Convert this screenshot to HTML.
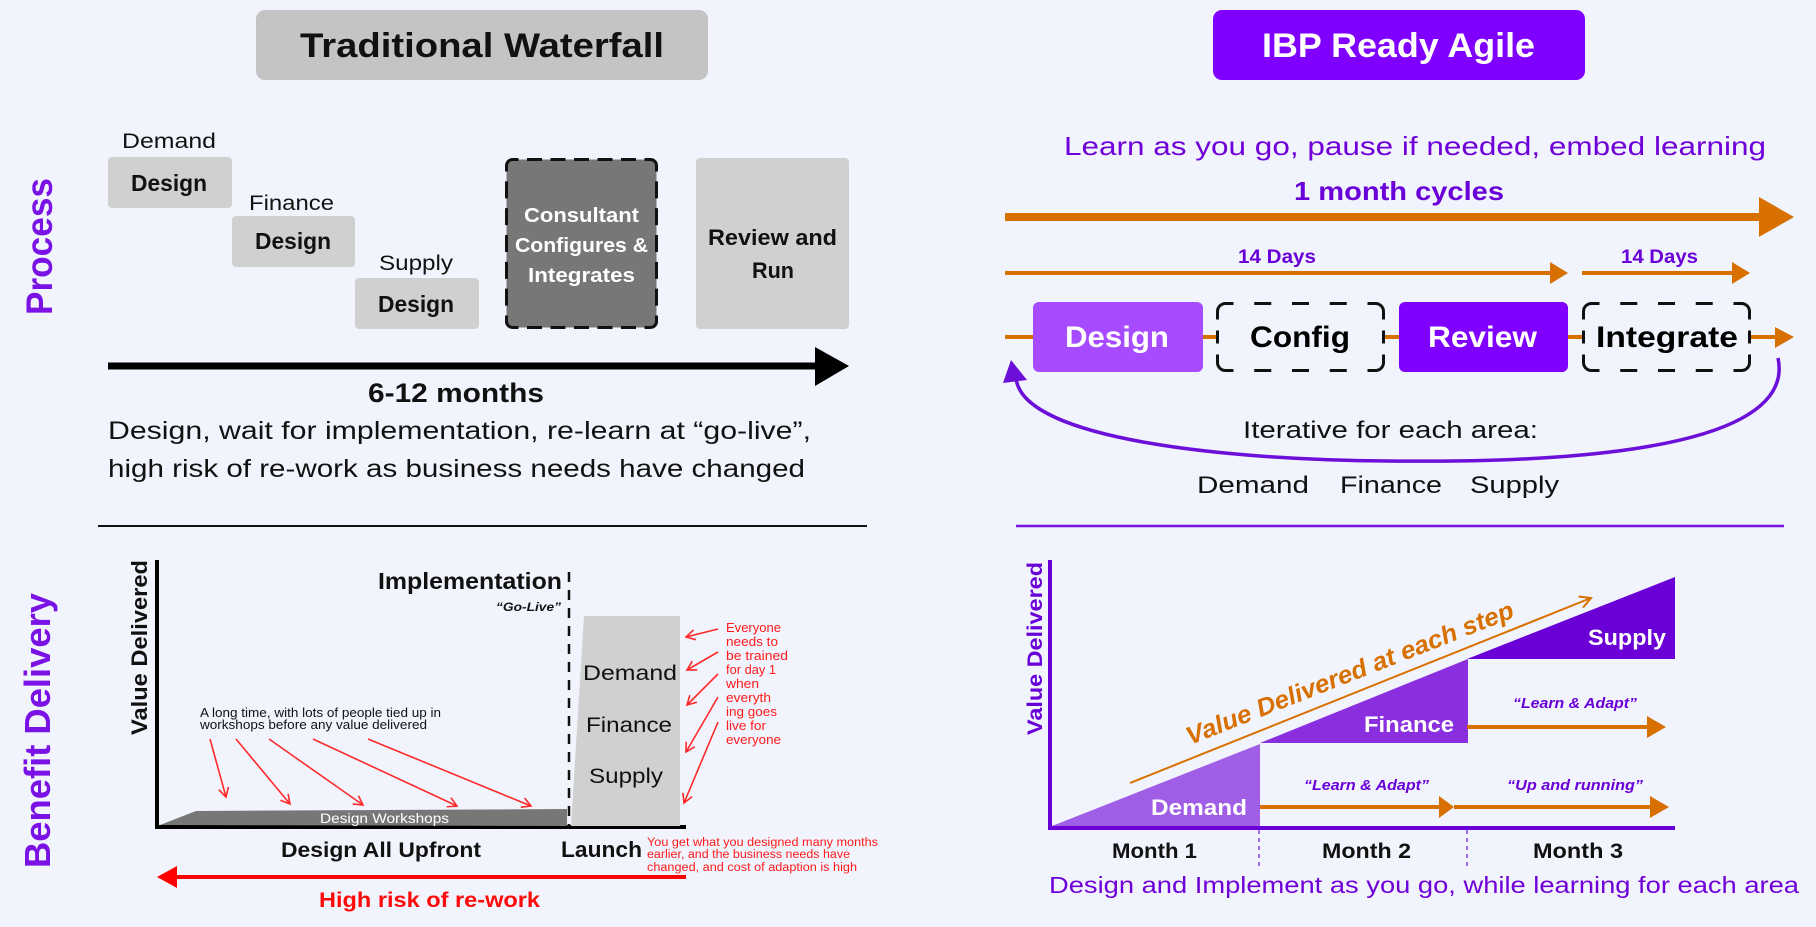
<!DOCTYPE html>
<html><head><meta charset="utf-8"><style>
html,body{margin:0;padding:0;background:#f1f4fd;}
svg{display:block;}
text{font-family:"Liberation Sans",Arial,sans-serif;}
</style></head><body>
<svg width="1816" height="927" viewBox="0 0 1816 927" xmlns="http://www.w3.org/2000/svg">
<defs>
<marker id="ra" markerWidth="12" markerHeight="12" refX="10" refY="6" orient="auto" markerUnits="userSpaceOnUse"><path d="M1,1 L10,6 L1,11" fill="none" stroke="#ff2a2a" stroke-width="1.6"/></marker>
<marker id="oa" markerWidth="14" markerHeight="14" refX="12" refY="7" orient="auto" markerUnits="userSpaceOnUse"><path d="M1,1 L12,7 L1,13" fill="none" stroke="#d87000" stroke-width="2"/></marker>
</defs>
<rect width="1816" height="927" fill="#f1f4fd"/>

<!-- Titles -->
<rect x="256" y="10" width="452" height="70" rx="9" fill="#c4c4c4"/>
<text x="300" y="57" font-size="34" font-weight="bold" fill="#111" textLength="364" lengthAdjust="spacingAndGlyphs">Traditional Waterfall</text>
<rect x="1213" y="10" width="372" height="70" rx="9" fill="#7f00ff"/>
<text x="1262" y="57" font-size="34" font-weight="bold" fill="#fff" textLength="273" lengthAdjust="spacingAndGlyphs">IBP Ready Agile</text>

<!-- Side labels -->
<text transform="translate(52,315) rotate(-90)" font-size="37" font-weight="bold" fill="#7a12e6" textLength="137" lengthAdjust="spacingAndGlyphs">Process</text>
<text transform="translate(50,868) rotate(-90)" font-size="36" font-weight="bold" fill="#7a12e6" textLength="275" lengthAdjust="spacingAndGlyphs">Benefit Delivery</text>

<!-- Left process -->
<text x="122" y="148" font-size="21" fill="#111" textLength="94" lengthAdjust="spacingAndGlyphs">Demand</text>
<rect x="108" y="157" width="124" height="51" rx="4" fill="#d0d0d0"/>
<text x="131" y="191" font-size="23" font-weight="bold" fill="#111" textLength="76" lengthAdjust="spacingAndGlyphs">Design</text>
<text x="249" y="210" font-size="21" fill="#111" textLength="85" lengthAdjust="spacingAndGlyphs">Finance</text>
<rect x="232" y="216" width="123" height="51" rx="4" fill="#d0d0d0"/>
<text x="255" y="249" font-size="23" font-weight="bold" fill="#111" textLength="76" lengthAdjust="spacingAndGlyphs">Design</text>
<text x="379" y="270" font-size="21" fill="#111" textLength="74" lengthAdjust="spacingAndGlyphs">Supply</text>
<rect x="355" y="278" width="124" height="51" rx="4" fill="#d0d0d0"/>
<text x="378" y="312" font-size="23" font-weight="bold" fill="#111" textLength="76" lengthAdjust="spacingAndGlyphs">Design</text>

<rect x="506.5" y="159.5" width="150" height="168" rx="6" fill="#777"/>
<g fill="none" stroke="#111" stroke-width="3">
<path d="M506.5,171.5 V165.5 A6,6 0 0 1 512.5,159.5 H518.5"/>
<path d="M644.5,159.5 H650.5 A6,6 0 0 1 656.5,165.5 V171.5"/>
<path d="M656.5,315.5 V321.5 A6,6 0 0 1 650.5,327.5 H644.5"/>
<path d="M518.5,327.5 H512.5 A6,6 0 0 1 506.5,321.5 V315.5"/>
<line x1="518.5" y1="159.5" x2="644.5" y2="159.5" stroke-dasharray="15 8.5" stroke-dashoffset="15"/>
<line x1="518.5" y1="327.5" x2="644.5" y2="327.5" stroke-dasharray="15 8.5" stroke-dashoffset="15"/>
<line x1="506.5" y1="171.5" x2="506.5" y2="315.5" stroke-dasharray="17 9.83" stroke-dashoffset="17"/>
<line x1="656.5" y1="171.5" x2="656.5" y2="315.5" stroke-dasharray="17 9.83" stroke-dashoffset="17"/>
</g>
<text x="524" y="222" font-size="20" font-weight="bold" fill="#fff" textLength="115" lengthAdjust="spacingAndGlyphs">Consultant</text>
<text x="515" y="252" font-size="20" font-weight="bold" fill="#fff" textLength="133" lengthAdjust="spacingAndGlyphs">Configures &amp;</text>
<text x="528" y="282" font-size="20" font-weight="bold" fill="#fff" textLength="107" lengthAdjust="spacingAndGlyphs">Integrates</text>

<rect x="696" y="158" width="153" height="171" rx="4" fill="#d0d0d0"/>
<text x="708" y="245" font-size="22" font-weight="bold" fill="#111" textLength="129" lengthAdjust="spacingAndGlyphs">Review and</text>
<text x="752" y="278" font-size="22" font-weight="bold" fill="#111" textLength="42" lengthAdjust="spacingAndGlyphs">Run</text>

<rect x="108" y="362.5" width="708" height="7" fill="#000"/>
<polygon points="815,347 849,366 815,386" fill="#000"/>
<text x="368" y="402" font-size="27" font-weight="bold" fill="#111" textLength="176" lengthAdjust="spacingAndGlyphs">6-12 months</text>
<text x="108" y="439" font-size="25" fill="#111" textLength="703" lengthAdjust="spacingAndGlyphs">Design, wait for implementation, re-learn at “go-live”,</text>
<text x="108" y="477" font-size="25" fill="#111" textLength="697" lengthAdjust="spacingAndGlyphs">high risk of re-work as business needs have changed</text>

<line x1="98" y1="526" x2="867" y2="526" stroke="#111" stroke-width="2"/>
<line x1="1016" y1="526" x2="1784" y2="526" stroke="#7a12e0" stroke-width="2.5"/>

<!-- Right process -->
<text x="1064" y="155" font-size="26" fill="#7000d8" textLength="702" lengthAdjust="spacingAndGlyphs">Learn as you go, pause if needed, embed learning</text>
<text x="1294" y="200" font-size="26" font-weight="bold" fill="#6a00d8" textLength="210" lengthAdjust="spacingAndGlyphs">1 month cycles</text>
<rect x="1005" y="213" width="756" height="8" fill="#d87000"/>
<polygon points="1759,197 1794,217 1759,237" fill="#d87000"/>
<text x="1238" y="263" font-size="19" font-weight="bold" fill="#6a00d8" textLength="78" lengthAdjust="spacingAndGlyphs">14 Days</text>
<rect x="1005" y="271" width="546" height="4" fill="#d87000"/>
<polygon points="1550,262 1568,273 1550,284" fill="#d87000"/>
<text x="1621" y="263" font-size="19" font-weight="bold" fill="#6a00d8" textLength="77" lengthAdjust="spacingAndGlyphs">14 Days</text>
<rect x="1582" y="271" width="151" height="4" fill="#d87000"/>
<polygon points="1732,262 1750,273 1732,284" fill="#d87000"/>

<rect x="1005" y="335" width="771" height="4" fill="#d87000"/>
<polygon points="1775,327 1794,337 1775,348" fill="#d87000"/>
<rect x="1033" y="302" width="170" height="70" rx="6" fill="#a64bff"/>
<text x="1065" y="347" font-size="30" font-weight="bold" fill="#fff" textLength="104" lengthAdjust="spacingAndGlyphs">Design</text>

<rect x="1217.5" y="303.5" width="166" height="67" rx="8" fill="#f1f4fd"/>
<rect x="1583.5" y="303.5" width="166" height="67" rx="8" fill="#f1f4fd"/>
<g fill="none" stroke="#111" stroke-width="3">
<path d="M1217.5,319.5 V311.5 A8,8 0 0 1 1225.5,303.5 H1233.5"/>
<path d="M1367.5,303.5 H1375.5 A8,8 0 0 1 1383.5,311.5 V319.5"/>
<path d="M1383.5,354.5 V362.5 A8,8 0 0 1 1375.5,370.5 H1367.5"/>
<path d="M1233.5,370.5 H1225.5 A8,8 0 0 1 1217.5,362.5 V354.5"/>
<line x1="1233.5" y1="303.5" x2="1367.5" y2="303.5" stroke-dasharray="17 20.75" stroke-dashoffset="17"/>
<line x1="1233.5" y1="370.5" x2="1367.5" y2="370.5" stroke-dasharray="17 20.75" stroke-dashoffset="17"/>
<line x1="1217.5" y1="319.5" x2="1217.5" y2="354.5" stroke-dasharray="13 11" stroke-dashoffset="13"/>
<line x1="1383.5" y1="319.5" x2="1383.5" y2="354.5" stroke-dasharray="13 11" stroke-dashoffset="13"/>

<path d="M1583.5,319.5 V311.5 A8,8 0 0 1 1591.5,303.5 H1599.5"/>
<path d="M1733.5,303.5 H1741.5 A8,8 0 0 1 1749.5,311.5 V319.5"/>
<path d="M1749.5,354.5 V362.5 A8,8 0 0 1 1741.5,370.5 H1733.5"/>
<path d="M1599.5,370.5 H1591.5 A8,8 0 0 1 1583.5,362.5 V354.5"/>
<line x1="1599.5" y1="303.5" x2="1733.5" y2="303.5" stroke-dasharray="17 20.75" stroke-dashoffset="17"/>
<line x1="1599.5" y1="370.5" x2="1733.5" y2="370.5" stroke-dasharray="17 20.75" stroke-dashoffset="17"/>
<line x1="1583.5" y1="319.5" x2="1583.5" y2="354.5" stroke-dasharray="13 11" stroke-dashoffset="13"/>
<line x1="1749.5" y1="319.5" x2="1749.5" y2="354.5" stroke-dasharray="13 11" stroke-dashoffset="13"/>
</g>
<text x="1250" y="347" font-size="30" font-weight="bold" fill="#000" textLength="100" lengthAdjust="spacingAndGlyphs">Config</text>
<rect x="1399" y="302" width="169" height="70" rx="6" fill="#7f00ff"/>
<text x="1428" y="347" font-size="30" font-weight="bold" fill="#fff" textLength="109" lengthAdjust="spacingAndGlyphs">Review</text>
<text x="1596" y="347" font-size="30" font-weight="bold" fill="#000" textLength="142" lengthAdjust="spacingAndGlyphs">Integrate</text>

<path d="M1778,358 C1800,462 1500,462 1389,461 C1230,460 1022,440 1016,378" fill="none" stroke="#6c0fd8" stroke-width="3.5"/>
<polygon points="1011,360 1003,383 1027,380" fill="#6c0fd8"/>
<text x="1243" y="438" font-size="24" fill="#111" textLength="295" lengthAdjust="spacingAndGlyphs">Iterative for each area:</text>
<text x="1197" y="493" font-size="24" fill="#111" textLength="112" lengthAdjust="spacingAndGlyphs">Demand</text>
<text x="1340" y="493" font-size="24" fill="#111" textLength="102" lengthAdjust="spacingAndGlyphs">Finance</text>
<text x="1470" y="493" font-size="24" fill="#111" textLength="89" lengthAdjust="spacingAndGlyphs">Supply</text>

<!-- Bottom-left chart -->
<line x1="157" y1="560" x2="157" y2="829" stroke="#000" stroke-width="4"/>
<line x1="155" y1="827" x2="686" y2="827" stroke="#000" stroke-width="4"/>
<text transform="translate(147,735) rotate(-90)" font-size="22" font-weight="bold" fill="#111" textLength="175" lengthAdjust="spacingAndGlyphs">Value Delivered</text>
<text x="378" y="589" font-size="23" font-weight="bold" fill="#111" textLength="184" lengthAdjust="spacingAndGlyphs">Implementation</text>
<text x="496" y="611" font-size="12" font-weight="bold" font-style="italic" fill="#111" textLength="65" lengthAdjust="spacingAndGlyphs">“Go-Live”</text>
<line x1="569" y1="572" x2="569" y2="826" stroke="#111" stroke-width="2.5" stroke-dasharray="10 8"/>
<polygon points="160,825 196,811 567,809 567,826" fill="#777"/>
<text x="320" y="823" font-size="14" fill="#fff" textLength="129" lengthAdjust="spacingAndGlyphs">Design Workshops</text>
<text x="200" y="717" font-size="13" fill="#111" textLength="241" lengthAdjust="spacingAndGlyphs">A long time, with lots of people tied up in</text>
<text x="200" y="729" font-size="13" fill="#111" textLength="227" lengthAdjust="spacingAndGlyphs">workshops before any value delivered</text>
<g stroke="#ff2a2a" stroke-width="1.6" marker-end="url(#ra)">
<line x1="210" y1="739" x2="226" y2="797"/>
<line x1="236" y1="739" x2="290" y2="804"/>
<line x1="269" y1="739" x2="363" y2="805"/>
<line x1="313" y1="739" x2="457" y2="806"/>
<line x1="368" y1="739" x2="531" y2="806"/>
</g>

<polygon points="584,616 680,616 680,826 571,826" fill="#d0d0d0"/>
<text x="583" y="680" font-size="21" fill="#111" textLength="94" lengthAdjust="spacingAndGlyphs">Demand</text>
<text x="586" y="732" font-size="21" fill="#111" textLength="86" lengthAdjust="spacingAndGlyphs">Finance</text>
<text x="589" y="783" font-size="21" fill="#111" textLength="74" lengthAdjust="spacingAndGlyphs">Supply</text>
<g font-size="12.5" fill="#ff1a1a">
<text x="726" y="632" textLength="55" lengthAdjust="spacingAndGlyphs">Everyone</text>
<text x="726" y="646" textLength="52" lengthAdjust="spacingAndGlyphs">needs to</text>
<text x="726" y="660" textLength="62" lengthAdjust="spacingAndGlyphs">be trained</text>
<text x="726" y="674" textLength="50" lengthAdjust="spacingAndGlyphs">for day 1</text>
<text x="726" y="688" textLength="33" lengthAdjust="spacingAndGlyphs">when</text>
<text x="726" y="702" textLength="45" lengthAdjust="spacingAndGlyphs">everyth</text>
<text x="726" y="716" textLength="51" lengthAdjust="spacingAndGlyphs">ing goes</text>
<text x="726" y="730" textLength="40" lengthAdjust="spacingAndGlyphs">live for</text>
<text x="726" y="744" textLength="55" lengthAdjust="spacingAndGlyphs">everyone</text>
</g>
<g stroke="#ff2a2a" stroke-width="1.6" marker-end="url(#ra)">
<line x1="718" y1="629" x2="686" y2="637"/>
<line x1="718" y1="652" x2="687" y2="670"/>
<line x1="718" y1="674" x2="687" y2="705"/>
<line x1="718" y1="697" x2="686" y2="752"/>
<line x1="718" y1="722" x2="684" y2="803"/>
</g>
<text x="561" y="857" font-size="22" font-weight="bold" fill="#111" textLength="81" lengthAdjust="spacingAndGlyphs">Launch</text>
<text x="281" y="857" font-size="21" font-weight="bold" fill="#111" textLength="200" lengthAdjust="spacingAndGlyphs">Design All Upfront</text>
<g font-size="11.5" fill="#ff1a1a">
<text x="647" y="846" textLength="231" lengthAdjust="spacingAndGlyphs">You get what you designed many months</text>
<text x="647" y="858" textLength="203" lengthAdjust="spacingAndGlyphs">earlier, and the business needs have</text>
<text x="647" y="871" textLength="210" lengthAdjust="spacingAndGlyphs">changed, and cost of adaption is high</text>
</g>
<line x1="172" y1="877" x2="686" y2="877" stroke="#ff0000" stroke-width="4"/>
<polygon points="157,877 177,866 177,888" fill="#ff0000"/>
<text x="319" y="907" font-size="21" font-weight="bold" fill="#ff0a0a" textLength="221" lengthAdjust="spacingAndGlyphs">High risk of re-work</text>

<!-- Bottom-right chart -->
<polygon points="1052,826 1260,744 1260,826" fill="#a05de6"/>
<polygon points="1260,743 1468,659 1468,743" fill="#8a2fe0"/>
<polygon points="1467,659 1675,577 1675,659" fill="#6a00d6"/>
<line x1="1050" y1="560" x2="1050" y2="830" stroke="#6a00d8" stroke-width="4"/>
<line x1="1048" y1="828" x2="1675" y2="828" stroke="#6a00d8" stroke-width="4"/>
<text transform="translate(1042,735) rotate(-90)" font-size="21" font-weight="bold" fill="#6a00d8" textLength="173" lengthAdjust="spacingAndGlyphs">Value Delivered</text>
<text x="1151" y="815" font-size="22" font-weight="bold" fill="#fff" textLength="96" lengthAdjust="spacingAndGlyphs">Demand</text>
<text x="1364" y="732" font-size="22" font-weight="bold" fill="#fff" textLength="90" lengthAdjust="spacingAndGlyphs">Finance</text>
<text x="1588" y="645" font-size="22" font-weight="bold" fill="#fff" textLength="78" lengthAdjust="spacingAndGlyphs">Supply</text>

<line x1="1467" y1="727" x2="1648" y2="727" stroke="#d87000" stroke-width="4"/>
<polygon points="1647,716 1666,727 1647,738" fill="#d87000"/>
<line x1="1260" y1="807" x2="1440" y2="807" stroke="#d87000" stroke-width="4"/>
<polygon points="1439,796 1454,807 1439,818" fill="#d87000"/>
<line x1="1454" y1="807" x2="1651" y2="807" stroke="#d87000" stroke-width="4"/>
<polygon points="1650,796 1669,807 1650,818" fill="#d87000"/>
<text x="1513" y="708" font-size="15" font-weight="bold" font-style="italic" fill="#6a00d8" textLength="124" lengthAdjust="spacingAndGlyphs">“Learn &amp; Adapt”</text>
<text x="1304" y="790" font-size="15" font-weight="bold" font-style="italic" fill="#6a00d8" textLength="125" lengthAdjust="spacingAndGlyphs">“Learn &amp; Adapt”</text>
<text x="1507" y="790" font-size="15" font-weight="bold" font-style="italic" fill="#6a00d8" textLength="136" lengthAdjust="spacingAndGlyphs">“Up and running”</text>

<line x1="1130" y1="783" x2="1591" y2="598" stroke="#d87000" stroke-width="2" marker-end="url(#oa)"/>
<text transform="translate(1190,745) rotate(-21.5)" font-size="25" font-weight="bold" font-style="italic" fill="#d87000" textLength="350" lengthAdjust="spacingAndGlyphs">Value Delivered at each step</text>

<line x1="1259" y1="830" x2="1259" y2="869" stroke="#8a3fe0" stroke-width="1.5" stroke-dasharray="4 4"/>
<line x1="1467" y1="830" x2="1467" y2="869" stroke="#8a3fe0" stroke-width="1.5" stroke-dasharray="4 4"/>
<text x="1112" y="858" font-size="21" font-weight="bold" fill="#111" textLength="85" lengthAdjust="spacingAndGlyphs">Month 1</text>
<text x="1322" y="858" font-size="21" font-weight="bold" fill="#111" textLength="89" lengthAdjust="spacingAndGlyphs">Month 2</text>
<text x="1533" y="858" font-size="21" font-weight="bold" fill="#111" textLength="90" lengthAdjust="spacingAndGlyphs">Month 3</text>
<text x="1049" y="893" font-size="23" fill="#7000d8" textLength="750" lengthAdjust="spacingAndGlyphs">Design and Implement as you go, while learning for each area</text>
</svg>
</body></html>
